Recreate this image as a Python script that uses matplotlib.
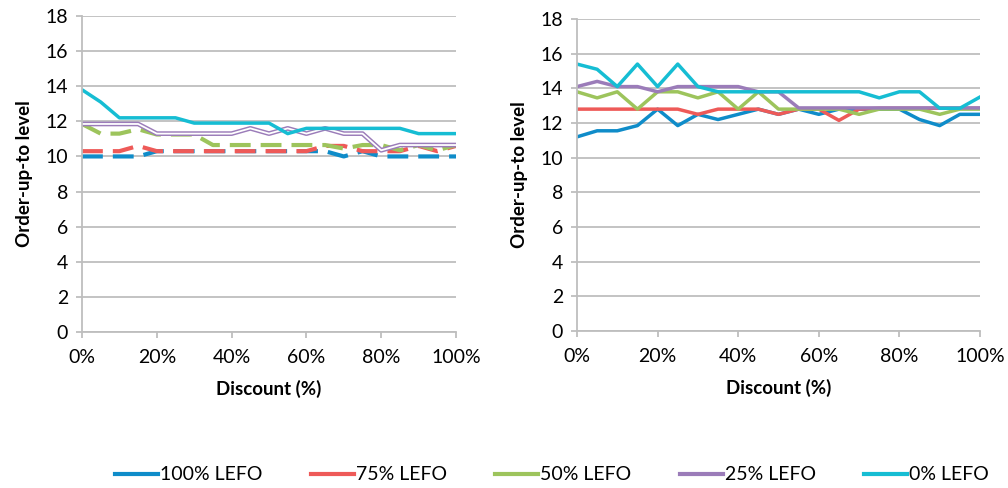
import matplotlib
matplotlib.use("Agg")
import matplotlib.pyplot as plt
import numpy as np
from matplotlib.lines import Line2D

plt.rcParams['font.family'] = ['Lato', 'DejaVu Sans']

discount = [0, 5, 10, 15, 20, 25, 30, 35, 40, 45, 50, 55, 60, 65, 70, 75, 80, 85, 90, 95, 100]
series_names = ["100% LEFO", "75% LEFO", "50% LEFO", "25% LEFO", "0% LEFO"]

# Left panel
left_100 = [10.0, 10.0, 10.0, 10.0, 10.3, 10.3, 10.3, 10.3, 10.3, 10.3, 10.3, 10.3, 10.3, 10.3, 10.0, 10.3, 10.0, 10.0, 10.0, 10.0, 10.0]
left_75 = [10.3, 10.3, 10.3, 10.6, 10.3, 10.3, 10.3, 10.3, 10.3, 10.3, 10.3, 10.3, 10.3, 10.6, 10.6, 10.3, 10.3, 10.3, 10.6, 10.3, 10.6]
left_50 = [11.85, 11.3, 11.3, 11.55, 11.25, 11.25, 11.25, 10.65, 10.65, 10.65, 10.65, 10.65, 10.65, 10.65, 10.45, 10.65, 10.65, 10.35, 10.65, 10.35, 10.65]
left_25 = [11.85, 11.85, 11.85, 11.85, 11.3, 11.3, 11.3, 11.3, 11.3, 11.6, 11.3, 11.6, 11.3, 11.6, 11.3, 11.3, 10.35, 10.65, 10.65, 10.65, 10.65]
left_0 = [13.8, 13.1, 12.2, 12.2, 12.2, 12.2, 11.9, 11.9, 11.9, 11.9, 11.9, 11.3, 11.6, 11.6, 11.6, 11.6, 11.6, 11.6, 11.3, 11.3, 11.3]

# Right panel
right_100 = [11.2, 11.55, 11.55, 11.85, 12.8, 11.85, 12.5, 12.2, 12.5, 12.8, 12.5, 12.8, 12.5, 12.8, 12.8, 12.8, 12.8, 12.2, 11.85, 12.5, 12.5]
right_75 = [12.8, 12.8, 12.8, 12.8, 12.8, 12.8, 12.5, 12.8, 12.8, 12.8, 12.5, 12.8, 12.8, 12.15, 12.8, 12.85, 12.85, 12.85, 12.85, 12.85, 12.85]
right_50 = [13.8, 13.45, 13.8, 12.8, 13.8, 13.8, 13.45, 13.8, 12.8, 13.8, 12.8, 12.8, 12.8, 12.8, 12.5, 12.8, 12.8, 12.8, 12.5, 12.8, 12.8]
right_25 = [14.1, 14.4, 14.1, 14.1, 13.8, 14.1, 14.1, 14.1, 14.1, 13.8, 13.8, 12.87, 12.87, 12.87, 12.87, 12.87, 12.87, 12.87, 12.87, 12.87, 12.87]
right_0 = [15.4, 15.1, 14.1, 15.4, 14.1, 15.4, 14.1, 13.8, 13.8, 13.8, 13.8, 13.8, 13.8, 13.8, 13.8, 13.45, 13.8, 13.8, 12.85, 12.85, 13.5]

colors = ["#0F8CC9", "#EE5A58", "#9DC45C", "#9B7CB9", "#16BDD3"]

yticks = [0, 2, 4, 6, 8, 10, 12, 14, 16, 18]
xticks = [0, 20, 40, 60, 80, 100]
xticklabels = ["0%", "20%", "40%", "60%", "80%", "100%"]

fig = plt.figure(figsize=(10.08, 4.88), dpi=100)
axL = fig.add_axes([82/1008, 1-332/488, 374/1008, 316/488])
axR = fig.add_axes([577/1008, 1-331/488, 403/1008, 312/488])

grid_c = "#BEBEBE"


def style(ax):
    ax.set_xlim(0, 100)
    ax.set_ylim(0, 18)
    ax.set_yticks(yticks)
    ax.set_xticks(xticks)
    ax.set_xticklabels(xticklabels)
    ax.yaxis.grid(True, color=grid_c, lw=1.3)
    ax.set_axisbelow(True)
    for s in ["top", "right"]:
        ax.spines[s].set_visible(False)
    for s in ["left", "bottom"]:
        ax.spines[s].set_color(grid_c)
        ax.spines[s].set_linewidth(1.3)
    ax.tick_params(axis='y', length=4, color=grid_c, width=1.3, labelsize=14, pad=6)
    ax.tick_params(axis='x', length=4, color=grid_c, width=1.3, labelsize=14, pad=8)
    ax.set_xlabel("Discount (%)", fontsize=13.5, fontweight='bold', labelpad=10)
    ax.set_ylabel("Order-up-to level", fontsize=13.5, fontweight='bold', labelpad=9)


style(axL)
style(axR)

dash = (0, (5, 2.4))
axL.plot(discount, left_100, color=colors[0], lw=3.0, linestyle=dash)
axL.plot(discount, left_75, color=colors[1], lw=3.0, linestyle=dash)
axL.plot(discount, left_50, color=colors[2], lw=3.0, linestyle=dash)
axL.plot(discount, left_25, color=colors[3], lw=3.4)
axL.plot(discount, left_25, color="white", lw=1.3)
axL.plot(discount, left_0, color=colors[4], lw=2.5)

for vals, c in zip([right_100, right_75, right_50, right_25, right_0], colors):
    axR.plot(discount, vals, color=c, lw=2.5)

handles = [Line2D([0], [0], color=c, lw=3) for c in colors]
fig.legend(handles, series_names, loc='center', bbox_to_anchor=(552/1008, 1-475/488),
           ncol=5, frameon=False, fontsize=14, handlelength=2.2, handletextpad=0.1,
           columnspacing=2.5)

fig.savefig("out.png", dpi=100)
